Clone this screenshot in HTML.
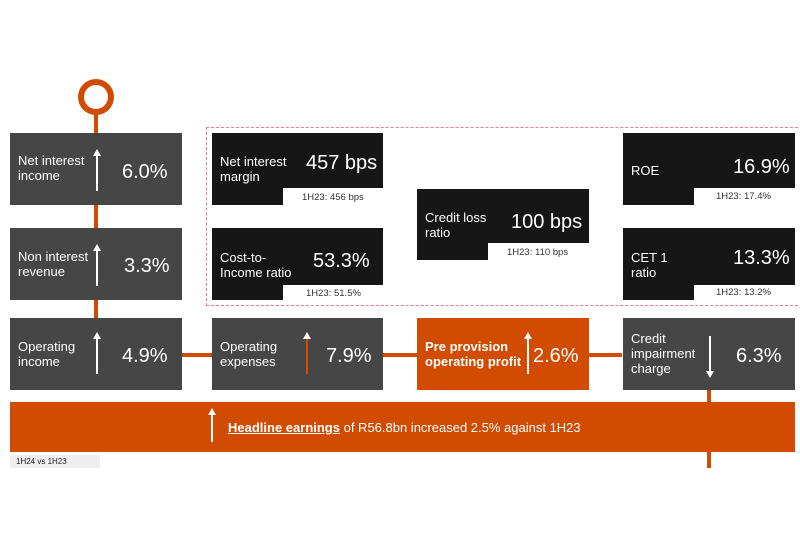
<!DOCTYPE html>
<html><head><meta charset="utf-8"><style>
body{margin:0;width:800px;height:533px;background:#fff;position:relative;overflow:hidden;font-family:"Liberation Sans",Arial,sans-serif}
.a{position:absolute}
.g{background:#464646;color:#fff}
.k{background:#161616;color:#fff}
.o{background:#d14b00;color:#fff}
.lbl{position:absolute;font-size:13px;line-height:15px;color:#fff}
.val{position:absolute;font-size:20px;color:#fff}
.sub{position:absolute;font-size:9.5px;color:#333}
.arr{position:absolute;width:2px;background:#fff}
.arr:before{content:"";position:absolute;left:-3px;top:-6px;border-left:4px solid transparent;border-right:4px solid transparent;border-bottom:7px solid #fff}
.dn:before{top:auto;bottom:-6px;border-bottom:none;border-top:7px solid #fff}
.ln{position:absolute;background:#d14b00}
</style></head><body>
<div class="a" style="left:78px;top:79px;width:24px;height:24px;border:6px solid #d14b00;border-radius:50%"></div>
<div class="ln" style="left:94px;top:114px;width:4px;height:206px"></div>
<div class="ln" style="left:182px;top:353px;width:440px;height:4px"></div>
<div class="ln" style="left:707px;top:388px;width:4px;height:80px"></div>
<div class="a" style="left:206px;top:127px;width:600px;height:177px;border:1px dashed #e87a90"></div>

<div class="a g" style="left:10px;top:133px;width:172px;height:72px">
<div class="lbl" style="left:8px;top:20px">Net interest<br>income</div><div class="arr" style="left:86px;top:22px;height:36px"></div><div class="val" style="left:112px;top:28px">6.0%</div></div>
<div class="a g" style="left:10px;top:228px;width:172px;height:72px">
<div class="lbl" style="left:8px;top:21px">Non interest<br>revenue</div><div class="arr" style="left:86px;top:22px;height:36px"></div><div class="val" style="left:114px;top:27px">3.3%</div></div>
<div class="a g" style="left:10px;top:318px;width:172px;height:72px">
<div class="lbl" style="left:8px;top:21px">Operating<br>income</div><div class="arr" style="left:86px;top:20px;height:36px"></div><div class="val" style="left:112px;top:27px">4.9%</div></div>
<div class="a g" style="left:212px;top:318px;width:171px;height:72px">
<div class="lbl" style="left:8px;top:21px">Operating<br>expenses</div><div class="arr" style="left:94px;top:20px;height:36px;background:#d14b00"></div><div class="val" style="left:114px;top:27px">7.9%</div></div>
<div class="a o" style="left:417px;top:318px;width:172px;height:72px">
<div class="lbl" style="left:8px;top:21px;font-weight:bold">Pre provision<br>operating profit</div><div class="arr" style="left:110px;top:20px;height:36px"></div><div class="val" style="left:116px;top:27px">2.6%</div></div>
<div class="a g" style="left:623px;top:318px;width:172px;height:72px">
<div class="lbl" style="left:8px;top:13px">Credit<br>impairment<br>charge</div><div class="arr dn" style="left:86px;top:18px;height:36px"></div><div class="val" style="left:113px;top:27px">6.3%</div></div>

<div class="a k" style="left:212px;top:133px;width:171px;height:55px"><div class="lbl" style="left:8px;top:21px">Net interest<br>margin</div><div class="val" style="left:94px;top:19px">457 bps</div></div>
<div class="a k" style="left:212px;top:188px;width:71px;height:17px"></div>
<div class="sub" style="left:302px;top:192px">1H23: 456 bps</div>

<div class="a k" style="left:212px;top:228px;width:171px;height:57px"><div class="lbl" style="left:8px;top:22px">Cost-to-<br>Income ratio</div><div class="val" style="left:101px;top:22px">53.3%</div></div>
<div class="a k" style="left:212px;top:285px;width:71px;height:15px"></div>
<div class="sub" style="left:306px;top:288px">1H23: 51.5%</div>

<div class="a k" style="left:417px;top:189px;width:172px;height:54px"><div class="lbl" style="left:8px;top:21px">Credit loss<br>ratio</div><div class="val" style="left:94px;top:22px">100 bps</div></div>
<div class="a k" style="left:417px;top:243px;width:71px;height:17px"></div>
<div class="sub" style="left:507px;top:247px">1H23: 110 bps</div>

<div class="a k" style="left:623px;top:133px;width:172px;height:55px"><div class="lbl" style="left:8px;top:30px">ROE</div><div class="val" style="left:110px;top:23px">16.9%</div></div>
<div class="a k" style="left:623px;top:188px;width:71px;height:17px"></div>
<div class="sub" style="left:716px;top:191px">1H23: 17.4%</div>

<div class="a k" style="left:623px;top:228px;width:172px;height:57px"><div class="lbl" style="left:8px;top:22px">CET 1<br>ratio</div><div class="val" style="left:110px;top:19px">13.3%</div></div>
<div class="a k" style="left:623px;top:285px;width:71px;height:15px"></div>
<div class="sub" style="left:716px;top:287px">1H23: 13.2%</div>

<div class="a o" style="left:10px;top:402px;width:785px;height:50px">
<div class="arr" style="left:201px;top:12px;height:28px"></div>
<div class="lbl" style="left:218px;top:18px;font-size:13px"><b style="text-decoration:underline">Headline earnings</b> of R56.8bn increased 2.5% against 1H23</div></div>
<div class="a" style="left:10px;top:455px;width:90px;height:13px;background:#eee;font-size:8px;line-height:13px;color:#222;padding-left:6px;box-sizing:border-box">1H24 vs 1H23</div>
</body></html>
